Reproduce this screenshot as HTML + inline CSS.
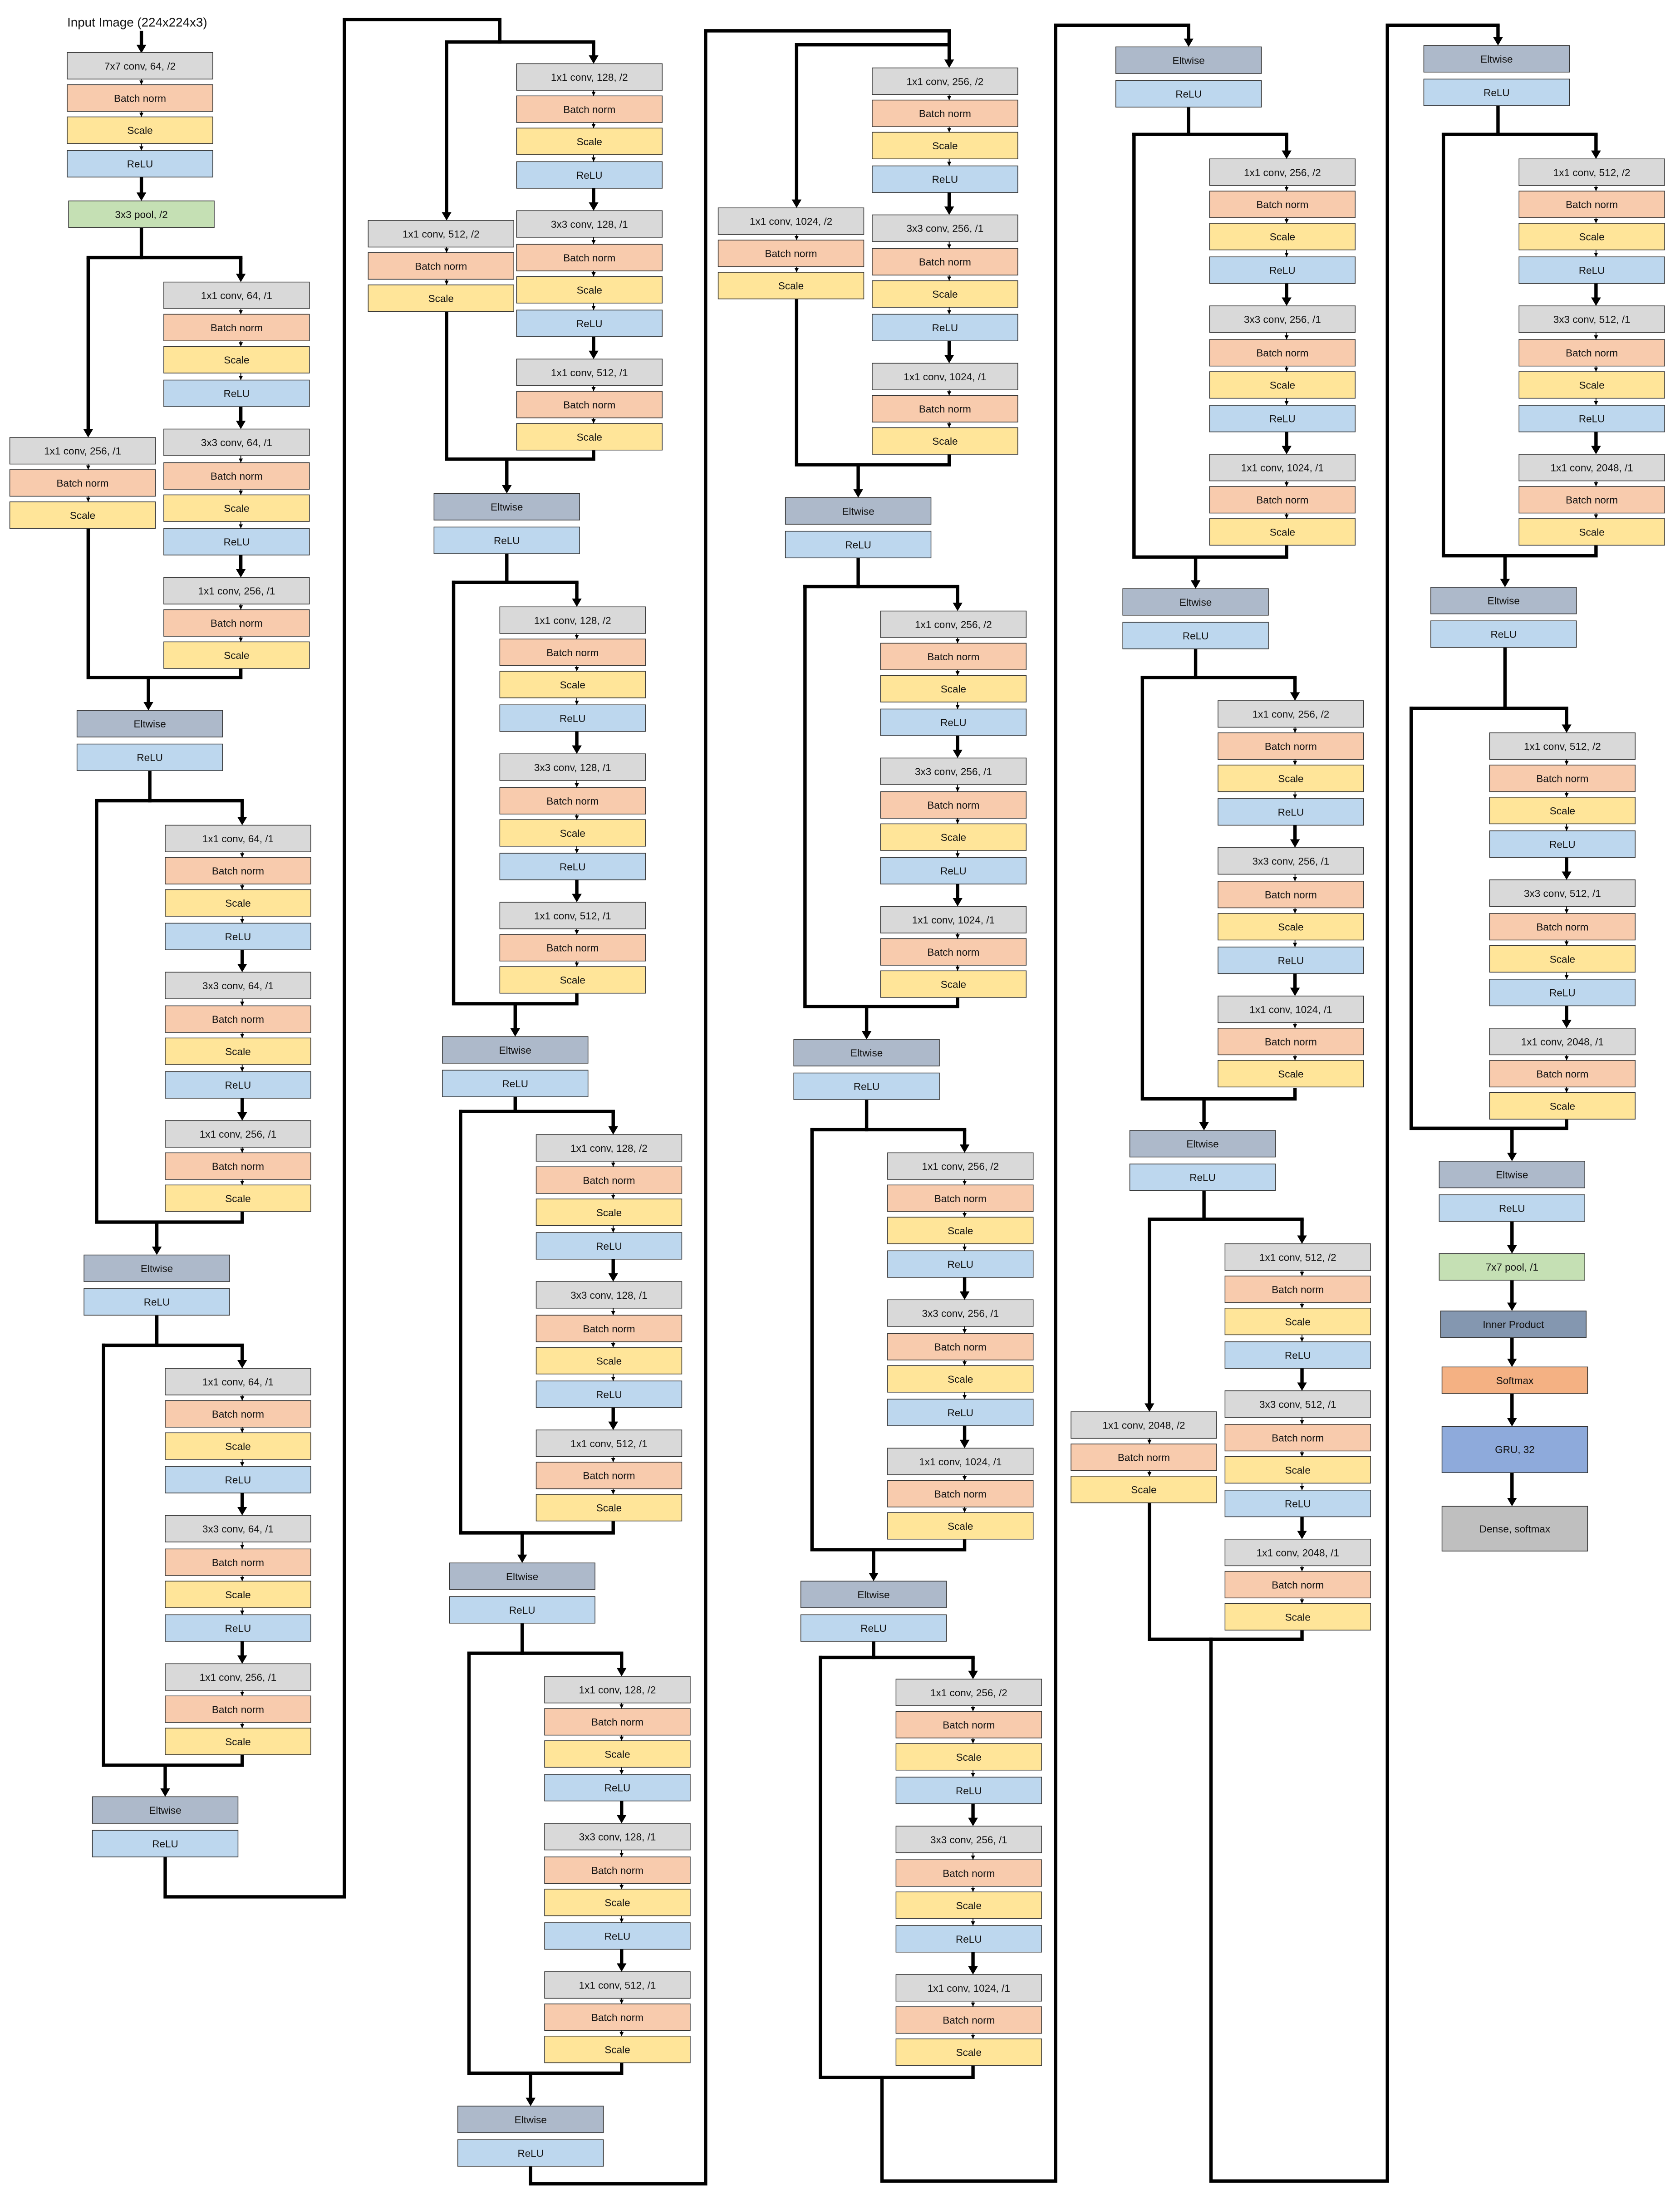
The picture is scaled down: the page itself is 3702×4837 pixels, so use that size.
<!DOCTYPE html>
<html><head><meta charset="utf-8"><style>
html,body{margin:0;padding:0;background:#fff}
svg{display:block}
rect{width:104px;height:19px;stroke:#333;stroke-width:.5}
.c{fill:#d9d9d9}.b{fill:#f8cbad}.s{fill:#ffe599}.r{fill:#bdd7ee}.e{fill:#adb9ca}.p{fill:#c5e0b4}
text{font-family:"Liberation Sans",Arial,sans-serif;font-size:7.3px;text-anchor:middle;fill:#111}
path{fill:none;stroke:#000}
.t{stroke-width:.6;marker-end:url(#mt)}
.k{stroke-width:2.4;marker-end:url(#mk)}
.w{stroke-width:2.4;stroke-linecap:square;stroke-linejoin:miter}
marker path{fill:#000;stroke:none}
</style></head><body>
<svg xmlns="http://www.w3.org/2000/svg" width="3702" height="4837" viewBox="0 0 1200 1568" preserveAspectRatio="none">
<defs>
<marker id="mt" markerUnits="userSpaceOnUse" viewBox="0 0 3 3" markerWidth="3" markerHeight="3" refX="3" refY="1.5" orient="auto"><path d="M0 0L3 1.5L0 3z"/></marker>
<marker id="mk" markerUnits="userSpaceOnUse" viewBox="0 0 6 7" markerWidth="6" markerHeight="7" refX="4" refY="3.5" orient="auto"><path d="M0 0L6 3.5L0 7z"/></marker>
</defs>
<rect x="0" y="0" style="width:1200px;height:1568px;fill:#fff;stroke:none"/>

<!-- connectors -->
<path class="k" d="M101 22V36"/>
<path class="w" d="M101 162.5V184"/><path class="w" d="M63 184H172"/>
<path class="k" d="M63 184V310.5"/><path class="k" d="M172 184V199.5"/>
<path class="w" d="M63 378.5V484H172V477.5"/><path class="k" d="M106 484V505.5"/>
<path class="w" d="M107 550.5V572"/><path class="w" d="M69 572H173"/><path class="k" d="M173 572V587.5"/>
<path class="w" d="M69 572V873H173V866.5"/><path class="k" d="M112 873V894.5"/>
<path class="w" d="M112 938.5V961"/><path class="w" d="M74 961H173"/><path class="k" d="M173 961V975.5"/>
<path class="w" d="M74 961V1261H173V1254.5"/><path class="k" d="M118 1261V1281.5"/>
<path class="w" d="M118 1326.5V1355H246V14H357V30"/><path class="w" d="M319 30H424"/>
<path class="k" d="M319 30V155.5"/><path class="k" d="M424 30V43.5"/>

<path class="w" d="M319 222.5V328H424V322.5"/><path class="k" d="M362 328V350.5"/>
<path class="w" d="M362 394.5V416"/><path class="w" d="M324 416H412"/><path class="k" d="M412 416V431.5"/>
<path class="w" d="M324 416V717H412V710.5"/><path class="k" d="M368 717V738.5"/>
<path class="w" d="M368 783.5V794"/><path class="w" d="M329 794H438"/><path class="k" d="M438 794V808.5"/>
<path class="w" d="M329 794V1095H438V1087.5"/><path class="k" d="M373 1095V1114.5"/>
<path class="w" d="M373 1159.5V1181"/><path class="w" d="M335 1181H444"/><path class="k" d="M444 1181V1195.5"/>
<path class="w" d="M335 1181V1481H444V1474.5"/><path class="k" d="M379 1481V1502.5"/>
<path class="w" d="M379 1546.5V1560H504V22H678V32"/><path class="w" d="M569 32H678"/>
<path class="k" d="M678 32V46.5"/><path class="k" d="M569 32V146.5"/>

<path class="w" d="M569 213.5V332H678V325.5"/><path class="k" d="M613 332V353.5"/>
<path class="w" d="M613 398.5V419"/><path class="w" d="M575 419H684"/><path class="k" d="M684 419V434.5"/>
<path class="w" d="M575 419V719H684V712.5"/><path class="k" d="M619 719V740.5"/>
<path class="w" d="M619 785.5V807"/><path class="w" d="M580 807H689"/><path class="k" d="M689 807V821.5"/>
<path class="w" d="M580 807V1107H689V1100.5"/><path class="k" d="M624 1107V1127.5"/>
<path class="w" d="M624 1172.5V1184"/><path class="w" d="M586 1184H695"/><path class="k" d="M695 1184V1197.5"/>
<path class="w" d="M586 1184V1484H695V1476.5"/>
<path class="w" d="M630 1484V1558H754V18H849"/><path class="k" d="M849 18V31.5"/>

<path class="w" d="M849 76.5V96"/><path class="w" d="M810 96H919"/><path class="k" d="M919 96V111.5"/>
<path class="w" d="M810 96V398H919V390.5"/><path class="k" d="M854 398V418.5"/>
<path class="w" d="M854 462.5V484"/><path class="w" d="M816 484H925"/><path class="k" d="M925 484V498.5"/>
<path class="w" d="M816 484V785H925V778.5"/><path class="k" d="M860 785V805.5"/>
<path class="w" d="M860 850.5V871"/><path class="w" d="M821 871H930"/><path class="k" d="M930 871V886.5"/>
<path class="k" d="M821 871V1006.5"/>
<path class="w" d="M821 1073.5V1171H930V1164.5"/>
<path class="w" d="M865 1171V1558H991V18H1070"/><path class="k" d="M1070 18V30.5"/>

<path class="w" d="M1070 75.5V96"/><path class="w" d="M1031 96H1140"/><path class="k" d="M1140 96V111.5"/>
<path class="w" d="M1031 96V397H1140V390.5"/><path class="k" d="M1075 397V417.5"/>
<path class="w" d="M1075 462.5V506"/><path class="w" d="M1008 506H1119"/><path class="k" d="M1119 506V521.5"/>
<path class="w" d="M1008 506V806H1119V799.5"/><path class="k" d="M1080 806V827.5"/>
<path class="k" d="M1080 872.5V893.5"/><path class="k" d="M1080 914.5V934.5"/>
<path class="k" d="M1080 955.5V974.5"/><path class="k" d="M1080 995.5V1017"/>
<path class="k" d="M1080 1052V1074"/>

<!-- input -->
<text x="48" y="19" style="text-anchor:start;font-size:9px">Input Image (224x224x3)</text>
<g transform="translate(48,47)">
<rect class="c" y="-9.5"/><text x="52" y="2.7">7x7 conv, 64, /2</text><rect class="b" y="13.5"/><text x="52" y="25.7">Batch norm</text><rect class="s" y="36.5"/><text x="52" y="48.7">Scale</text><rect class="r" y="60.5"/><text x="52" y="72.7">ReLU</text>
<path class="t" d="M53 9.5V13.5"/><path class="t" d="M53 32.5V36.5"/><path class="t" d="M53 55.5V60.5"/><path class="k" d="M53 79.5V94.5"/>
<rect class="p" x="1" y="96.5"/><text x="53" y="108.7">3x3 pool, /2</text>
</g>

<!-- left branches -->
<g transform="translate(7,322)"><rect class="c" y="-9.5"/><text x="52" y="2.7">1x1 conv, 256, /1</text><rect class="b" y="13.5"/><text x="52" y="25.7">Batch norm</text><rect class="s" y="36.5"/><text x="52" y="48.7">Scale</text><path class="t" d="M56 9.5V13.5"/><path class="t" d="M56 32.5V36.5"/></g>
<g transform="translate(263,167)"><rect class="c" y="-9.5"/><text x="52" y="2.7">1x1 conv, 512, /2</text><rect class="b" y="13.5"/><text x="52" y="25.7">Batch norm</text><rect class="s" y="36.5"/><text x="52" y="48.7">Scale</text><path class="t" d="M56 9.5V13.5"/><path class="t" d="M56 32.5V36.5"/></g>
<g transform="translate(513,158)"><rect class="c" y="-9.5"/><text x="52" y="2.7">1x1 conv, 1024, /2</text><rect class="b" y="13.5"/><text x="52" y="25.7">Batch norm</text><rect class="s" y="36.5"/><text x="52" y="48.7">Scale</text><path class="t" d="M56 9.5V13.5"/><path class="t" d="M56 32.5V36.5"/></g>
<g transform="translate(765,1018)"><rect class="c" y="-9.5"/><text x="52" y="2.7">1x1 conv, 2048, /2</text><rect class="b" y="13.5"/><text x="52" y="25.7">Batch norm</text><rect class="s" y="36.5"/><text x="52" y="48.7">Scale</text><path class="t" d="M56 9.5V13.5"/><path class="t" d="M56 32.5V36.5"/></g>

<!-- eltwise/relu -->
<g transform="translate(55,517)"><rect class="e" y="-9.5"/><text x="52" y="2.7">Eltwise</text><rect class="r" y="14.5"/><text x="52" y="26.7">ReLU</text></g>
<g transform="translate(60,906)"><rect class="e" y="-9.5"/><text x="52" y="2.7">Eltwise</text><rect class="r" y="14.5"/><text x="52" y="26.7">ReLU</text></g>
<g transform="translate(66,1293)"><rect class="e" y="-9.5"/><text x="52" y="2.7">Eltwise</text><rect class="r" y="14.5"/><text x="52" y="26.7">ReLU</text></g>
<g transform="translate(310,362)"><rect class="e" y="-9.5"/><text x="52" y="2.7">Eltwise</text><rect class="r" y="14.5"/><text x="52" y="26.7">ReLU</text></g>
<g transform="translate(316,750)"><rect class="e" y="-9.5"/><text x="52" y="2.7">Eltwise</text><rect class="r" y="14.5"/><text x="52" y="26.7">ReLU</text></g>
<g transform="translate(321,1126)"><rect class="e" y="-9.5"/><text x="52" y="2.7">Eltwise</text><rect class="r" y="14.5"/><text x="52" y="26.7">ReLU</text></g>
<g transform="translate(327,1514)"><rect class="e" y="-9.5"/><text x="52" y="2.7">Eltwise</text><rect class="r" y="14.5"/><text x="52" y="26.7">ReLU</text></g>
<g transform="translate(561,365)"><rect class="e" y="-9.5"/><text x="52" y="2.7">Eltwise</text><rect class="r" y="14.5"/><text x="52" y="26.7">ReLU</text></g>
<g transform="translate(567,752)"><rect class="e" y="-9.5"/><text x="52" y="2.7">Eltwise</text><rect class="r" y="14.5"/><text x="52" y="26.7">ReLU</text></g>
<g transform="translate(572,1139)"><rect class="e" y="-9.5"/><text x="52" y="2.7">Eltwise</text><rect class="r" y="14.5"/><text x="52" y="26.7">ReLU</text></g>
<g transform="translate(797,43)"><rect class="e" y="-9.5"/><text x="52" y="2.7">Eltwise</text><rect class="r" y="14.5"/><text x="52" y="26.7">ReLU</text></g>
<g transform="translate(802,430)"><rect class="e" y="-9.5"/><text x="52" y="2.7">Eltwise</text><rect class="r" y="14.5"/><text x="52" y="26.7">ReLU</text></g>
<g transform="translate(807,817)"><rect class="e" y="-9.5"/><text x="52" y="2.7">Eltwise</text><rect class="r" y="14.5"/><text x="52" y="26.7">ReLU</text></g>
<g transform="translate(1017,42)"><rect class="e" y="-9.5"/><text x="52" y="2.7">Eltwise</text><rect class="r" y="14.5"/><text x="52" y="26.7">ReLU</text></g>
<g transform="translate(1022,429)"><rect class="e" y="-9.5"/><text x="52" y="2.7">Eltwise</text><rect class="r" y="14.5"/><text x="52" y="26.7">ReLU</text></g>
<g transform="translate(1028,839)"><rect class="e" y="-9.5"/><text x="52" y="2.7">Eltwise</text><rect class="r" y="14.5"/><text x="52" y="26.7">ReLU</text></g>

<!-- final -->
<rect class="p" x="1028" y="895.5"/><text x="1080" y="907.7">7x7 pool, /1</text>
<rect x="1029" y="936.5" style="fill:#8497b0"/><text x="1081" y="948.7">Inner Product</text>
<rect x="1030" y="976.5" style="fill:#f4b183"/><text x="1082" y="988.7">Softmax</text>
<rect x="1030" y="1019" style="fill:#8eaadb;height:33px"/><text x="1082" y="1038">GRU, 32</text>
<rect x="1030" y="1076" style="fill:#bfbfbf;height:32px"/><text x="1082" y="1094.7">Dense, softmax</text>

<!-- chains -->
<g transform="translate(117,211)"><rect class="c" y="-9.5"/><text x="52" y="2.7">1x1 conv, 64, /1</text><rect class="b" y="13.5"/><text x="52" y="25.7">Batch norm</text><rect class="s" y="36.5"/><text x="52" y="48.7">Scale</text><rect class="r" y="60.5"/><text x="52" y="72.7">ReLU</text><rect class="c" y="95.5"/><text x="52" y="107.7">3x3 conv, 64, /1</text><rect class="b" y="119.5"/><text x="52" y="131.7">Batch norm</text><rect class="s" y="142.5"/><text x="52" y="154.7">Scale</text><rect class="r" y="166.5"/><text x="52" y="178.7">ReLU</text><rect class="c" y="201.5"/><text x="52" y="213.7">1x1 conv, 256, /1</text><rect class="b" y="224.5"/><text x="52" y="236.7">Batch norm</text><rect class="s" y="247.5"/><text x="52" y="259.7">Scale</text><path class="t" d="M55 9.5V13.5"/><path class="t" d="M55 32.5V36.5"/><path class="t" d="M55 55.5V60.5"/><path class="k" d="M55 79.5V93.5"/><path class="t" d="M55 114.5V119.5"/><path class="t" d="M55 138.5V142.5"/><path class="t" d="M55 161.5V166.5"/><path class="k" d="M55 185.5V199.5"/><path class="t" d="M55 220.5V224.5"/><path class="t" d="M55 243.5V247.5"/></g>
<g transform="translate(118,599)"><rect class="c" y="-9.5"/><text x="52" y="2.7">1x1 conv, 64, /1</text><rect class="b" y="13.5"/><text x="52" y="25.7">Batch norm</text><rect class="s" y="36.5"/><text x="52" y="48.7">Scale</text><rect class="r" y="60.5"/><text x="52" y="72.7">ReLU</text><rect class="c" y="95.5"/><text x="52" y="107.7">3x3 conv, 64, /1</text><rect class="b" y="119.5"/><text x="52" y="131.7">Batch norm</text><rect class="s" y="142.5"/><text x="52" y="154.7">Scale</text><rect class="r" y="166.5"/><text x="52" y="178.7">ReLU</text><rect class="c" y="201.5"/><text x="52" y="213.7">1x1 conv, 256, /1</text><rect class="b" y="224.5"/><text x="52" y="236.7">Batch norm</text><rect class="s" y="247.5"/><text x="52" y="259.7">Scale</text><path class="t" d="M55 9.5V13.5"/><path class="t" d="M55 32.5V36.5"/><path class="t" d="M55 55.5V60.5"/><path class="k" d="M55 79.5V93.5"/><path class="t" d="M55 114.5V119.5"/><path class="t" d="M55 138.5V142.5"/><path class="t" d="M55 161.5V166.5"/><path class="k" d="M55 185.5V199.5"/><path class="t" d="M55 220.5V224.5"/><path class="t" d="M55 243.5V247.5"/></g>
<g transform="translate(118,987)"><rect class="c" y="-9.5"/><text x="52" y="2.7">1x1 conv, 64, /1</text><rect class="b" y="13.5"/><text x="52" y="25.7">Batch norm</text><rect class="s" y="36.5"/><text x="52" y="48.7">Scale</text><rect class="r" y="60.5"/><text x="52" y="72.7">ReLU</text><rect class="c" y="95.5"/><text x="52" y="107.7">3x3 conv, 64, /1</text><rect class="b" y="119.5"/><text x="52" y="131.7">Batch norm</text><rect class="s" y="142.5"/><text x="52" y="154.7">Scale</text><rect class="r" y="166.5"/><text x="52" y="178.7">ReLU</text><rect class="c" y="201.5"/><text x="52" y="213.7">1x1 conv, 256, /1</text><rect class="b" y="224.5"/><text x="52" y="236.7">Batch norm</text><rect class="s" y="247.5"/><text x="52" y="259.7">Scale</text><path class="t" d="M55 9.5V13.5"/><path class="t" d="M55 32.5V36.5"/><path class="t" d="M55 55.5V60.5"/><path class="k" d="M55 79.5V93.5"/><path class="t" d="M55 114.5V119.5"/><path class="t" d="M55 138.5V142.5"/><path class="t" d="M55 161.5V166.5"/><path class="k" d="M55 185.5V199.5"/><path class="t" d="M55 220.5V224.5"/><path class="t" d="M55 243.5V247.5"/></g>

<g transform="translate(369,55)"><rect class="c" y="-9.5"/><text x="52" y="2.7">1x1 conv, 128, /2</text><rect class="b" y="13.5"/><text x="52" y="25.7">Batch norm</text><rect class="s" y="36.5"/><text x="52" y="48.7">Scale</text><rect class="r" y="60.5"/><text x="52" y="72.7">ReLU</text><rect class="c" y="95.5"/><text x="52" y="107.7">3x3 conv, 128, /1</text><rect class="b" y="119.5"/><text x="52" y="131.7">Batch norm</text><rect class="s" y="142.5"/><text x="52" y="154.7">Scale</text><rect class="r" y="166.5"/><text x="52" y="178.7">ReLU</text><rect class="c" y="201.5"/><text x="52" y="213.7">1x1 conv, 512, /1</text><rect class="b" y="224.5"/><text x="52" y="236.7">Batch norm</text><rect class="s" y="247.5"/><text x="52" y="259.7">Scale</text><path class="t" d="M55 9.5V13.5"/><path class="t" d="M55 32.5V36.5"/><path class="t" d="M55 55.5V60.5"/><path class="k" d="M55 79.5V93.5"/><path class="t" d="M55 114.5V119.5"/><path class="t" d="M55 138.5V142.5"/><path class="t" d="M55 161.5V166.5"/><path class="k" d="M55 185.5V199.5"/><path class="t" d="M55 220.5V224.5"/><path class="t" d="M55 243.5V247.5"/></g>
<g transform="translate(357,443)"><rect class="c" y="-9.5"/><text x="52" y="2.7">1x1 conv, 128, /2</text><rect class="b" y="13.5"/><text x="52" y="25.7">Batch norm</text><rect class="s" y="36.5"/><text x="52" y="48.7">Scale</text><rect class="r" y="60.5"/><text x="52" y="72.7">ReLU</text><rect class="c" y="95.5"/><text x="52" y="107.7">3x3 conv, 128, /1</text><rect class="b" y="119.5"/><text x="52" y="131.7">Batch norm</text><rect class="s" y="142.5"/><text x="52" y="154.7">Scale</text><rect class="r" y="166.5"/><text x="52" y="178.7">ReLU</text><rect class="c" y="201.5"/><text x="52" y="213.7">1x1 conv, 512, /1</text><rect class="b" y="224.5"/><text x="52" y="236.7">Batch norm</text><rect class="s" y="247.5"/><text x="52" y="259.7">Scale</text><path class="t" d="M55 9.5V13.5"/><path class="t" d="M55 32.5V36.5"/><path class="t" d="M55 55.5V60.5"/><path class="k" d="M55 79.5V93.5"/><path class="t" d="M55 114.5V119.5"/><path class="t" d="M55 138.5V142.5"/><path class="t" d="M55 161.5V166.5"/><path class="k" d="M55 185.5V199.5"/><path class="t" d="M55 220.5V224.5"/><path class="t" d="M55 243.5V247.5"/></g>
<g transform="translate(383,820)"><rect class="c" y="-9.5"/><text x="52" y="2.7">1x1 conv, 128, /2</text><rect class="b" y="13.5"/><text x="52" y="25.7">Batch norm</text><rect class="s" y="36.5"/><text x="52" y="48.7">Scale</text><rect class="r" y="60.5"/><text x="52" y="72.7">ReLU</text><rect class="c" y="95.5"/><text x="52" y="107.7">3x3 conv, 128, /1</text><rect class="b" y="119.5"/><text x="52" y="131.7">Batch norm</text><rect class="s" y="142.5"/><text x="52" y="154.7">Scale</text><rect class="r" y="166.5"/><text x="52" y="178.7">ReLU</text><rect class="c" y="201.5"/><text x="52" y="213.7">1x1 conv, 512, /1</text><rect class="b" y="224.5"/><text x="52" y="236.7">Batch norm</text><rect class="s" y="247.5"/><text x="52" y="259.7">Scale</text><path class="t" d="M55 9.5V13.5"/><path class="t" d="M55 32.5V36.5"/><path class="t" d="M55 55.5V60.5"/><path class="k" d="M55 79.5V93.5"/><path class="t" d="M55 114.5V119.5"/><path class="t" d="M55 138.5V142.5"/><path class="t" d="M55 161.5V166.5"/><path class="k" d="M55 185.5V199.5"/><path class="t" d="M55 220.5V224.5"/><path class="t" d="M55 243.5V247.5"/></g>
<g transform="translate(389,1207)"><rect class="c" y="-9.5"/><text x="52" y="2.7">1x1 conv, 128, /2</text><rect class="b" y="13.5"/><text x="52" y="25.7">Batch norm</text><rect class="s" y="36.5"/><text x="52" y="48.7">Scale</text><rect class="r" y="60.5"/><text x="52" y="72.7">ReLU</text><rect class="c" y="95.5"/><text x="52" y="107.7">3x3 conv, 128, /1</text><rect class="b" y="119.5"/><text x="52" y="131.7">Batch norm</text><rect class="s" y="142.5"/><text x="52" y="154.7">Scale</text><rect class="r" y="166.5"/><text x="52" y="178.7">ReLU</text><rect class="c" y="201.5"/><text x="52" y="213.7">1x1 conv, 512, /1</text><rect class="b" y="224.5"/><text x="52" y="236.7">Batch norm</text><rect class="s" y="247.5"/><text x="52" y="259.7">Scale</text><path class="t" d="M55 9.5V13.5"/><path class="t" d="M55 32.5V36.5"/><path class="t" d="M55 55.5V60.5"/><path class="k" d="M55 79.5V93.5"/><path class="t" d="M55 114.5V119.5"/><path class="t" d="M55 138.5V142.5"/><path class="t" d="M55 161.5V166.5"/><path class="k" d="M55 185.5V199.5"/><path class="t" d="M55 220.5V224.5"/><path class="t" d="M55 243.5V247.5"/></g>

<g transform="translate(623,58)"><rect class="c" y="-9.5"/><text x="52" y="2.7">1x1 conv, 256, /2</text><rect class="b" y="13.5"/><text x="52" y="25.7">Batch norm</text><rect class="s" y="36.5"/><text x="52" y="48.7">Scale</text><rect class="r" y="60.5"/><text x="52" y="72.7">ReLU</text><rect class="c" y="95.5"/><text x="52" y="107.7">3x3 conv, 256, /1</text><rect class="b" y="119.5"/><text x="52" y="131.7">Batch norm</text><rect class="s" y="142.5"/><text x="52" y="154.7">Scale</text><rect class="r" y="166.5"/><text x="52" y="178.7">ReLU</text><rect class="c" y="201.5"/><text x="52" y="213.7">1x1 conv, 1024, /1</text><rect class="b" y="224.5"/><text x="52" y="236.7">Batch norm</text><rect class="s" y="247.5"/><text x="52" y="259.7">Scale</text><path class="t" d="M55 9.5V13.5"/><path class="t" d="M55 32.5V36.5"/><path class="t" d="M55 55.5V60.5"/><path class="k" d="M55 79.5V93.5"/><path class="t" d="M55 114.5V119.5"/><path class="t" d="M55 138.5V142.5"/><path class="t" d="M55 161.5V166.5"/><path class="k" d="M55 185.5V199.5"/><path class="t" d="M55 220.5V224.5"/><path class="t" d="M55 243.5V247.5"/></g>
<g transform="translate(629,446)"><rect class="c" y="-9.5"/><text x="52" y="2.7">1x1 conv, 256, /2</text><rect class="b" y="13.5"/><text x="52" y="25.7">Batch norm</text><rect class="s" y="36.5"/><text x="52" y="48.7">Scale</text><rect class="r" y="60.5"/><text x="52" y="72.7">ReLU</text><rect class="c" y="95.5"/><text x="52" y="107.7">3x3 conv, 256, /1</text><rect class="b" y="119.5"/><text x="52" y="131.7">Batch norm</text><rect class="s" y="142.5"/><text x="52" y="154.7">Scale</text><rect class="r" y="166.5"/><text x="52" y="178.7">ReLU</text><rect class="c" y="201.5"/><text x="52" y="213.7">1x1 conv, 1024, /1</text><rect class="b" y="224.5"/><text x="52" y="236.7">Batch norm</text><rect class="s" y="247.5"/><text x="52" y="259.7">Scale</text><path class="t" d="M55 9.5V13.5"/><path class="t" d="M55 32.5V36.5"/><path class="t" d="M55 55.5V60.5"/><path class="k" d="M55 79.5V93.5"/><path class="t" d="M55 114.5V119.5"/><path class="t" d="M55 138.5V142.5"/><path class="t" d="M55 161.5V166.5"/><path class="k" d="M55 185.5V199.5"/><path class="t" d="M55 220.5V224.5"/><path class="t" d="M55 243.5V247.5"/></g>
<g transform="translate(634,833)"><rect class="c" y="-9.5"/><text x="52" y="2.7">1x1 conv, 256, /2</text><rect class="b" y="13.5"/><text x="52" y="25.7">Batch norm</text><rect class="s" y="36.5"/><text x="52" y="48.7">Scale</text><rect class="r" y="60.5"/><text x="52" y="72.7">ReLU</text><rect class="c" y="95.5"/><text x="52" y="107.7">3x3 conv, 256, /1</text><rect class="b" y="119.5"/><text x="52" y="131.7">Batch norm</text><rect class="s" y="142.5"/><text x="52" y="154.7">Scale</text><rect class="r" y="166.5"/><text x="52" y="178.7">ReLU</text><rect class="c" y="201.5"/><text x="52" y="213.7">1x1 conv, 1024, /1</text><rect class="b" y="224.5"/><text x="52" y="236.7">Batch norm</text><rect class="s" y="247.5"/><text x="52" y="259.7">Scale</text><path class="t" d="M55 9.5V13.5"/><path class="t" d="M55 32.5V36.5"/><path class="t" d="M55 55.5V60.5"/><path class="k" d="M55 79.5V93.5"/><path class="t" d="M55 114.5V119.5"/><path class="t" d="M55 138.5V142.5"/><path class="t" d="M55 161.5V166.5"/><path class="k" d="M55 185.5V199.5"/><path class="t" d="M55 220.5V224.5"/><path class="t" d="M55 243.5V247.5"/></g>
<g transform="translate(640,1209)"><rect class="c" y="-9.5"/><text x="52" y="2.7">1x1 conv, 256, /2</text><rect class="b" y="13.5"/><text x="52" y="25.7">Batch norm</text><rect class="s" y="36.5"/><text x="52" y="48.7">Scale</text><rect class="r" y="60.5"/><text x="52" y="72.7">ReLU</text><rect class="c" y="95.5"/><text x="52" y="107.7">3x3 conv, 256, /1</text><rect class="b" y="119.5"/><text x="52" y="131.7">Batch norm</text><rect class="s" y="142.5"/><text x="52" y="154.7">Scale</text><rect class="r" y="166.5"/><text x="52" y="178.7">ReLU</text><rect class="c" y="201.5"/><text x="52" y="213.7">1x1 conv, 1024, /1</text><rect class="b" y="224.5"/><text x="52" y="236.7">Batch norm</text><rect class="s" y="247.5"/><text x="52" y="259.7">Scale</text><path class="t" d="M55 9.5V13.5"/><path class="t" d="M55 32.5V36.5"/><path class="t" d="M55 55.5V60.5"/><path class="k" d="M55 79.5V93.5"/><path class="t" d="M55 114.5V119.5"/><path class="t" d="M55 138.5V142.5"/><path class="t" d="M55 161.5V166.5"/><path class="k" d="M55 185.5V199.5"/><path class="t" d="M55 220.5V224.5"/><path class="t" d="M55 243.5V247.5"/></g>

<g transform="translate(864,123)"><rect class="c" y="-9.5"/><text x="52" y="2.7">1x1 conv, 256, /2</text><rect class="b" y="13.5"/><text x="52" y="25.7">Batch norm</text><rect class="s" y="36.5"/><text x="52" y="48.7">Scale</text><rect class="r" y="60.5"/><text x="52" y="72.7">ReLU</text><rect class="c" y="95.5"/><text x="52" y="107.7">3x3 conv, 256, /1</text><rect class="b" y="119.5"/><text x="52" y="131.7">Batch norm</text><rect class="s" y="142.5"/><text x="52" y="154.7">Scale</text><rect class="r" y="166.5"/><text x="52" y="178.7">ReLU</text><rect class="c" y="201.5"/><text x="52" y="213.7">1x1 conv, 1024, /1</text><rect class="b" y="224.5"/><text x="52" y="236.7">Batch norm</text><rect class="s" y="247.5"/><text x="52" y="259.7">Scale</text><path class="t" d="M55 9.5V13.5"/><path class="t" d="M55 32.5V36.5"/><path class="t" d="M55 55.5V60.5"/><path class="k" d="M55 79.5V93.5"/><path class="t" d="M55 114.5V119.5"/><path class="t" d="M55 138.5V142.5"/><path class="t" d="M55 161.5V166.5"/><path class="k" d="M55 185.5V199.5"/><path class="t" d="M55 220.5V224.5"/><path class="t" d="M55 243.5V247.5"/></g>
<g transform="translate(870,510)"><rect class="c" y="-9.5"/><text x="52" y="2.7">1x1 conv, 256, /2</text><rect class="b" y="13.5"/><text x="52" y="25.7">Batch norm</text><rect class="s" y="36.5"/><text x="52" y="48.7">Scale</text><rect class="r" y="60.5"/><text x="52" y="72.7">ReLU</text><rect class="c" y="95.5"/><text x="52" y="107.7">3x3 conv, 256, /1</text><rect class="b" y="119.5"/><text x="52" y="131.7">Batch norm</text><rect class="s" y="142.5"/><text x="52" y="154.7">Scale</text><rect class="r" y="166.5"/><text x="52" y="178.7">ReLU</text><rect class="c" y="201.5"/><text x="52" y="213.7">1x1 conv, 1024, /1</text><rect class="b" y="224.5"/><text x="52" y="236.7">Batch norm</text><rect class="s" y="247.5"/><text x="52" y="259.7">Scale</text><path class="t" d="M55 9.5V13.5"/><path class="t" d="M55 32.5V36.5"/><path class="t" d="M55 55.5V60.5"/><path class="k" d="M55 79.5V93.5"/><path class="t" d="M55 114.5V119.5"/><path class="t" d="M55 138.5V142.5"/><path class="t" d="M55 161.5V166.5"/><path class="k" d="M55 185.5V199.5"/><path class="t" d="M55 220.5V224.5"/><path class="t" d="M55 243.5V247.5"/></g>
<g transform="translate(875,898)"><rect class="c" y="-9.5"/><text x="52" y="2.7">1x1 conv, 512, /2</text><rect class="b" y="13.5"/><text x="52" y="25.7">Batch norm</text><rect class="s" y="36.5"/><text x="52" y="48.7">Scale</text><rect class="r" y="60.5"/><text x="52" y="72.7">ReLU</text><rect class="c" y="95.5"/><text x="52" y="107.7">3x3 conv, 512, /1</text><rect class="b" y="119.5"/><text x="52" y="131.7">Batch norm</text><rect class="s" y="142.5"/><text x="52" y="154.7">Scale</text><rect class="r" y="166.5"/><text x="52" y="178.7">ReLU</text><rect class="c" y="201.5"/><text x="52" y="213.7">1x1 conv, 2048, /1</text><rect class="b" y="224.5"/><text x="52" y="236.7">Batch norm</text><rect class="s" y="247.5"/><text x="52" y="259.7">Scale</text><path class="t" d="M55 9.5V13.5"/><path class="t" d="M55 32.5V36.5"/><path class="t" d="M55 55.5V60.5"/><path class="k" d="M55 79.5V93.5"/><path class="t" d="M55 114.5V119.5"/><path class="t" d="M55 138.5V142.5"/><path class="t" d="M55 161.5V166.5"/><path class="k" d="M55 185.5V199.5"/><path class="t" d="M55 220.5V224.5"/><path class="t" d="M55 243.5V247.5"/></g>

<g transform="translate(1085,123)"><rect class="c" y="-9.5"/><text x="52" y="2.7">1x1 conv, 512, /2</text><rect class="b" y="13.5"/><text x="52" y="25.7">Batch norm</text><rect class="s" y="36.5"/><text x="52" y="48.7">Scale</text><rect class="r" y="60.5"/><text x="52" y="72.7">ReLU</text><rect class="c" y="95.5"/><text x="52" y="107.7">3x3 conv, 512, /1</text><rect class="b" y="119.5"/><text x="52" y="131.7">Batch norm</text><rect class="s" y="142.5"/><text x="52" y="154.7">Scale</text><rect class="r" y="166.5"/><text x="52" y="178.7">ReLU</text><rect class="c" y="201.5"/><text x="52" y="213.7">1x1 conv, 2048, /1</text><rect class="b" y="224.5"/><text x="52" y="236.7">Batch norm</text><rect class="s" y="247.5"/><text x="52" y="259.7">Scale</text><path class="t" d="M55 9.5V13.5"/><path class="t" d="M55 32.5V36.5"/><path class="t" d="M55 55.5V60.5"/><path class="k" d="M55 79.5V93.5"/><path class="t" d="M55 114.5V119.5"/><path class="t" d="M55 138.5V142.5"/><path class="t" d="M55 161.5V166.5"/><path class="k" d="M55 185.5V199.5"/><path class="t" d="M55 220.5V224.5"/><path class="t" d="M55 243.5V247.5"/></g>
<g transform="translate(1064,533)"><rect class="c" y="-9.5"/><text x="52" y="2.7">1x1 conv, 512, /2</text><rect class="b" y="13.5"/><text x="52" y="25.7">Batch norm</text><rect class="s" y="36.5"/><text x="52" y="48.7">Scale</text><rect class="r" y="60.5"/><text x="52" y="72.7">ReLU</text><rect class="c" y="95.5"/><text x="52" y="107.7">3x3 conv, 512, /1</text><rect class="b" y="119.5"/><text x="52" y="131.7">Batch norm</text><rect class="s" y="142.5"/><text x="52" y="154.7">Scale</text><rect class="r" y="166.5"/><text x="52" y="178.7">ReLU</text><rect class="c" y="201.5"/><text x="52" y="213.7">1x1 conv, 2048, /1</text><rect class="b" y="224.5"/><text x="52" y="236.7">Batch norm</text><rect class="s" y="247.5"/><text x="52" y="259.7">Scale</text><path class="t" d="M55 9.5V13.5"/><path class="t" d="M55 32.5V36.5"/><path class="t" d="M55 55.5V60.5"/><path class="k" d="M55 79.5V93.5"/><path class="t" d="M55 114.5V119.5"/><path class="t" d="M55 138.5V142.5"/><path class="t" d="M55 161.5V166.5"/><path class="k" d="M55 185.5V199.5"/><path class="t" d="M55 220.5V224.5"/><path class="t" d="M55 243.5V247.5"/></g>
</svg>
</body></html>
